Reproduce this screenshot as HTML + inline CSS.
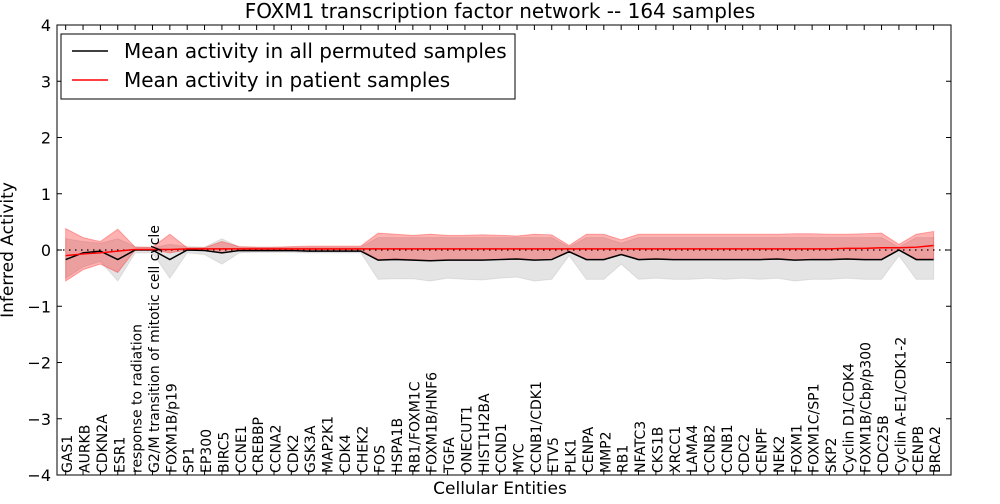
<!DOCTYPE html>
<html><head><meta charset="utf-8"><style>
body{margin:0;background:#fff;font-family:"DejaVu Sans",sans-serif}
</style></head><body>
<svg id="chart" width="1000" height="500" xmlns="http://www.w3.org/2000/svg" font-family="DejaVu Sans, sans-serif"></svg>
<script>
const categories=["GAS1","AURKB","CDKN2A","ESR1","response to radiation","G2/M transition of mitotic cell cycle","FOXM1B/p19","SP1","EP300","BIRC5","CCNE1","CREBBP","CCNA2","CDK2","GSK3A","MAP2K1","CDK4","CHEK2","FOS","HSPA1B","RB1/FOXM1C","FOXM1B/HNF6","TGFA","ONECUT1","HIST1H2BA","CCND1","MYC","CCNB1/CDK1","ETV5","PLK1","CENPA","MMP2","RB1","NFATC3","CKS1B","XRCC1","LAMA4","CCNB2","CCNB1","CDC2","CENPF","NEK2","FOXM1","FOXM1C/SP1","SKP2","Cyclin D1/CDK4","FOXM1B/Cbp/p300","CDC25B","Cyclin A-E1/CDK1-2","CENPB","BRCA2"];
const permMean=[-0.17,-0.05,-0.02,-0.17,0,0,-0.17,0,-0.01,-0.05,-0.01,-0.01,-0.01,-0.01,-0.02,-0.02,-0.02,-0.02,-0.18,-0.17,-0.18,-0.19,-0.18,-0.18,-0.18,-0.17,-0.16,-0.18,-0.17,-0.03,-0.17,-0.17,-0.08,-0.17,-0.16,-0.17,-0.17,-0.17,-0.17,-0.17,-0.17,-0.16,-0.18,-0.17,-0.17,-0.16,-0.17,-0.17,0,-0.17,-0.17];
const permUpper=[0.2,0.15,0.12,0.2,0.06,0.04,0.1,0.06,0.05,0.2,0.05,0.05,0.05,0.05,0.05,0.05,0.05,0.05,0.22,0.22,0.22,0.22,0.22,0.22,0.22,0.22,0.22,0.22,0.22,0.05,0.22,0.22,0.12,0.22,0.22,0.22,0.22,0.22,0.22,0.22,0.22,0.22,0.22,0.22,0.22,0.22,0.22,0.22,0.05,0.22,0.22];
const permLower=[-0.5,-0.3,-0.2,-0.55,-0.05,-0.05,-0.5,-0.05,-0.08,-0.25,-0.05,-0.04,-0.04,-0.04,-0.05,-0.05,-0.05,-0.05,-0.52,-0.51,-0.51,-0.55,-0.5,-0.52,-0.53,-0.5,-0.48,-0.55,-0.52,-0.1,-0.52,-0.52,-0.25,-0.52,-0.5,-0.52,-0.52,-0.5,-0.52,-0.5,-0.52,-0.5,-0.55,-0.52,-0.52,-0.5,-0.52,-0.52,-0.1,-0.52,-0.52];
const patMean=[-0.1,-0.07,-0.05,-0.02,0.01,0.01,0.01,0.02,0.02,0.02,0.02,0.02,0.02,0.02,0.02,0.02,0.02,0.02,0.02,0.02,0.02,0.02,0.02,0.02,0.02,0.02,0.02,0.02,0.02,0.02,0.02,0.02,0.02,0.02,0.02,0.02,0.02,0.02,0.02,0.02,0.02,0.02,0.02,0.02,0.02,0.03,0.03,0.04,0.04,0.05,0.08];
const patUpper=[0.38,0.22,0.15,0.37,0.05,0.05,0.28,0.04,0.04,0.15,0.06,0.05,0.05,0.06,0.07,0.07,0.07,0.07,0.3,0.28,0.26,0.28,0.26,0.26,0.27,0.26,0.25,0.28,0.27,0.08,0.28,0.28,0.18,0.28,0.28,0.28,0.28,0.28,0.28,0.28,0.28,0.28,0.29,0.29,0.28,0.28,0.29,0.3,0.1,0.28,0.33];
const patLower=[-0.55,-0.35,-0.25,-0.4,0,0,-0.05,0,0,-0.05,0,0,0,0,0,0,0,0,-0.17,-0.16,-0.17,-0.19,-0.18,-0.18,-0.18,-0.17,-0.16,-0.18,-0.17,-0.02,-0.17,-0.17,-0.08,-0.17,-0.16,-0.17,-0.17,-0.17,-0.17,-0.17,-0.17,-0.16,-0.18,-0.17,-0.17,-0.16,-0.17,-0.17,0,-0.16,-0.16];
const yTicks=[-4,-3,-2,-1,0,1,2,3,4];
const yTickLabels=["\u22124","\u22123","\u22122","\u22121","0","1","2","3","4"];

const L=57,R=951,T=25,B=475,NS="http://www.w3.org/2000/svg";
const xs=i=>L+(i+0.5)*(R-L)/51.5;
const ys=v=>T+(4-v)*(B-T)/8;
const svg=document.getElementById('chart');
function mk(t,a){const e=document.createElementNS(NS,t);for(const k in a)e.setAttribute(k,a[k]);svg.appendChild(e);return e;}
function band(up,lo,fill,op,name){
  let d=up.map((v,i)=>(i?'L':'M')+xs(i)+','+ys(v)).join('');
  for(let i=lo.length-1;i>=0;i--)d+='L'+xs(i)+','+ys(lo[i]);
  const p=mk('path',{d:d+'Z',fill:fill,'fill-opacity':op,stroke:fill,'stroke-opacity':op});
  
  
}
function line(vals,color,name){
  const p=mk('polyline',{points:vals.map((v,i)=>xs(i)+','+ys(v)).join(' '),fill:'none',stroke:color,'stroke-width':1.5});
  
  
}
band(permUpper,permLower,'#bbbbbb',0.4,'permuted-band');
band(patUpper,patLower,'#ff0000',0.3,'patient-band');
const z=mk('line',{x1:L,x2:R,y1:ys(0),y2:ys(0),stroke:'#000','stroke-dasharray':'1.5,4.5','stroke-width':1.2});


line(permMean,'#000','permuted-mean-line');
line(patMean,'#ff0000','patient-mean-line');
const fr=mk('rect',{x:L,y:T,width:R-L,height:B-T,fill:'none',stroke:'#000','stroke-width':1});


yTicks.forEach((v,i)=>{
  const y=ys(v);
  mk('line',{x1:L,x2:L+5,y1:y,y2:y,stroke:'#000'});
  mk('line',{x1:R-5,x2:R,y1:y,y2:y,stroke:'#000'});
  const t=mk('text',{x:L-6,y:y+6,'text-anchor':'end','font-size':16});
  t.textContent=yTickLabels[i];
  
  
});
categories.forEach((c,i)=>{
  const x=xs(i);
  mk('line',{x1:x,x2:x,y1:B,y2:B-5,stroke:'#000'});
  mk('line',{x1:x,x2:x,y1:T,y2:T+5,stroke:'#000'});
  const t=mk('text',{x:0,y:0,'font-size':14,transform:`translate(${x+6.5},${B-2}) rotate(-90)`});
  t.textContent=c;
  
  
});
const title=mk('text',{x:500,y:18,'text-anchor':'middle','font-size':20});
title.textContent='FOXM1 transcription factor network -- 164 samples';


const xl=mk('text',{x:500,y:494,'text-anchor':'middle','font-size':17});
xl.textContent='Cellular Entities';


const yl=mk('text',{x:0,y:0,'text-anchor':'middle','font-size':17,transform:'translate(13,250) rotate(-90)'});
yl.textContent='Inferred Activity';


const lg=mk('rect',{x:61,y:34,width:454,height:65,fill:'#fff',stroke:'#000'});


[['Mean activity in all permuted samples','#000',58],['Mean activity in patient samples','#ff0000',87]].forEach(([s,c,y])=>{
  mk('line',{x1:72,x2:108,y1:y-7,y2:y-7,stroke:c,'stroke-width':1.5});
  const t=mk('text',{x:124,y:y,'font-size':20});
  t.textContent=s;
  
  
});
</script>
</body></html>
